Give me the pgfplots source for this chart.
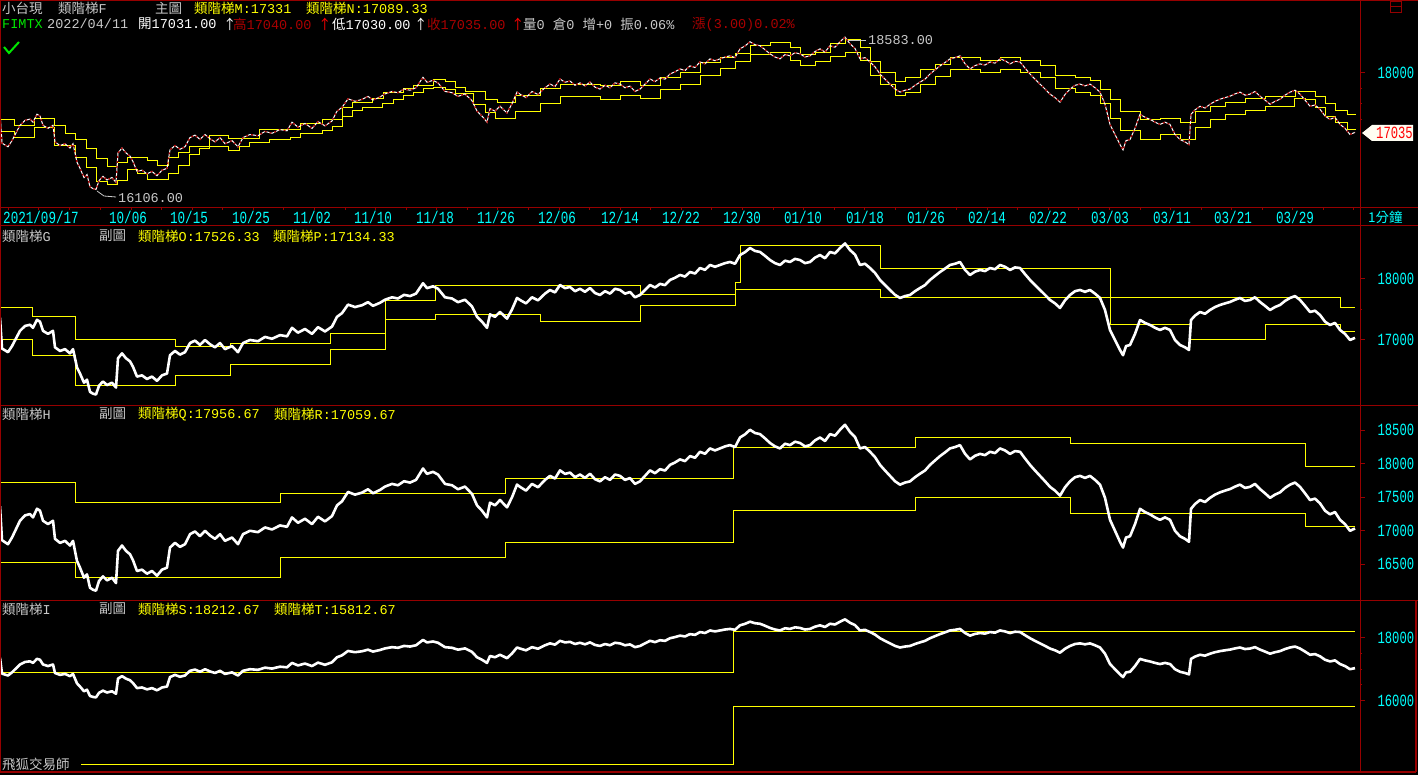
\documentclass[border=0pt]{standalone}
\usepackage{pgfplots}
\pgfplotsset{compat=1.18}
\usepackage{pgfplotstable}
\usepackage{fontspec}
\setmainfont{Liberation Mono}
\newfontfamily\cjk{Noto Sans CJK TC}
\definecolor{frame}{RGB}{150,0,0}
\definecolor{ylw}{RGB}{255,255,0}
\definecolor{cyn}{RGB}{0,255,255}
\definecolor{gry}{RGB}{200,200,200}
\definecolor{drd}{RGB}{170,0,0}
\definecolor{mag}{RGB}{255,0,255}
\definecolor{grn}{RGB}{0,230,0}
\newcommand\tl[1]{\scalebox{1}[1.35]{#1}}

\pgfplotstableread{
x p
0 17366
2 16860
8 16800
12 16900
20 17150
25 17230
30 17250
33 17200
37 17330
40 17300
43 17150
48 17100
53 17150
55 16880
60 16820
65 16850
70 16780
73 16850
77 16550
80 16450
84 16300
87 16350
90 16150
93 16120
96 16106
99 16250
103 16320
107 16260
112 16300
116 16220
118 16700
122 16780
126 16700
130 16650
133 16560
137 16400
142 16420
147 16360
152 16400
157 16330
162 16420
167 16450
170 16750
175 16820
180 16760
185 16800
190 16950
195 16990
200 16920
205 17000
210 16930
215 16880
220 16950
225 16850
232 16900
238 16800
243 16950
250 17000
258 16980
265 17050
272 17020
280 17080
287 17060
292 17200
298 17120
305 17180
312 17100
318 17210
325 17140
332 17220
337 17380
342 17440
348 17580
355 17540
362 17570
368 17620
373 17560
380 17610
385 17660
392 17700
398 17680
404 17740
410 17720
416 17760
423 17930
427 17850
433 17880
438 17840
445 17700
452 17680
458 17620
465 17660
472 17550
477 17380
482 17300
487 17200
490 17420
495 17380
500 17460
507 17350
512 17500
517 17690
520 17656
526 17600
532 17700
538 17650
545 17760
550 17820
555 17780
560 17902
565 17850
570 17869
575 17800
580 17840
585 17790
590 17852
595 17770
600 17738
605 17800
610 17760
615 17840
620 17820
625 17760
630 17787
635 17700
640 17738
645 17820
650 17902
655 17860
660 17920
665 17900
670 17984
675 18020
680 18066
685 18040
690 18115
695 18090
700 18180
705 18150
710 18230
715 18200
720 18230
725 18260
730 18279
735 18250
740 18393
745 18440
750 18508
755 18460
760 18443
765 18380
770 18311
775 18260
780 18230
785 18300
790 18279
795 18330
800 18311
805 18260
810 18279
815 18350
820 18393
825 18340
830 18443
835 18420
840 18508
845 18583
850 18475
855 18400
860 18230
865 18250
870 18180
875 18100
880 17984
885 17900
890 17820
895 17740
900 17689
905 17720
910 17738
915 17800
920 17852
925 17900
930 17984
935 18050
940 18115
945 18170
950 18230
955 18250
960 18279
965 18150
970 18066
975 18120
980 18148
985 18130
990 18180
995 18160
1000 18230
1005 18200
1010 18148
1015 18190
1020 18180
1025 18080
1030 17984
1035 17900
1040 17820
1045 17740
1050 17656
1055 17600
1060 17525
1065 17650
1070 17738
1075 17800
1080 17820
1085 17790
1090 17820
1095 17760
1100 17689
1105 17492
1110 17164
1115 17000
1120 16836
1123 16750
1126 16900
1130 16918
1135 17100
1140 17328
1145 17280
1150 17246
1155 17200
1160 17164
1165 17200
1170 17164
1175 17000
1180 16918
1185 16880
1189 16836
1191 17328
1195 17400
1200 17459
1205 17430
1210 17492
1215 17540
1220 17574
1225 17600
1230 17623
1235 17660
1240 17689
1245 17640
1250 17656
1255 17700
1260 17623
1265 17560
1270 17492
1275 17540
1280 17574
1285 17640
1290 17689
1295 17720
1300 17656
1305 17560
1310 17459
1315 17480
1320 17410
1325 17300
1330 17246
1335 17280
1340 17164
1345 17100
1350 17000
1355 17035
}\price

% main panel staircases
\pgfplotstableread{
x v
0 17236
14 17154
34 17268
54 17154
65 17024
75 16911
86 16780
96 16602
107 16472
117 16537
127 16634
147 16585
157 16504
168 16618
178 16715
189 16797
209 16976
228 16943
259 17089
300 17171
322 17236
342 17431
352 17528
372 17593
383 17691
403 17740
413 17789
433 17902
445 17854
455 17772
465 17707
485 17577
497 17528
515 17642
540 17756
560 17821
600 17789
620 17854
640 17789
660 17919
680 18016
700 18163
720 18244
735 18325
750 18455
770 18504
790 18407
800 18293
815 18341
830 18472
845 18537
860 18407
870 18179
880 18016
895 17854
905 17919
920 18049
935 18146
950 18244
980 18211
1000 18260
1020 18211
1040 18130
1055 17967
1075 17919
1090 17886
1100 17724
1110 17561
1120 17366
1140 17236
1160 17268
1180 17203
1195 17366
1210 17463
1225 17528
1245 17593
1265 17626
1280 17610
1295 17707
1315 17610
1325 17496
1335 17398
1347 17331
1356 17331
}\mM
\pgfplotstableread{
x v
0 17041
14 16959
34 17106
54 16829
75 16618
86 16456
96 16228
107 16179
117 16260
127 16423
137 16358
147 16276
168 16358
178 16504
189 16667
199 16780
209 16813
228 16748
239 16797
249 16862
269 16911
290 16959
300 17024
322 17057
332 17138
342 17285
352 17398
362 17447
382 17496
393 17577
403 17642
413 17691
423 17756
433 17772
445 17724
455 17659
473 17480
485 17350
495 17268
515 17366
540 17496
560 17610
600 17561
620 17642
640 17593
660 17724
680 17821
700 17967
720 18081
735 18179
750 18293
770 18341
790 18211
800 18130
815 18179
830 18276
845 18341
860 18211
870 17967
880 17805
895 17642
905 17691
920 17805
935 17951
950 18049
980 18016
1000 18049
1020 18016
1040 17919
1055 17756
1075 17691
1090 17642
1100 17512
1110 17268
1120 17073
1140 16911
1160 17008
1180 16911
1195 17106
1210 17236
1225 17333
1245 17398
1265 17463
1280 17463
1294 17593
1305 17561
1315 17447
1325 17285
1335 17203
1347 17089
1356 17089
}\mN

% panel G staircases
\pgfplotstableread{
x v
0 17525
32 17393
75 17000
175 16900
230 16950
330 17100
385 17650
435 17900
640 17750
735 17950
740 18557
880 18180
1110 17689
1340 17526
1355 17526
}\gO
\pgfplotstableread{
x v
0 17000
32 16750
75 16260
175 16420
230 16590
330 16836
385 17328
435 17410
540 17300
640 17560
735 17820
880 17700
1110 17250
1190 17000
1265 17250
1340 17134
1355 17134
}\gP

\pgfplotsset{
  panel/.style={scale only axis, width=1360pt, xmin=0, xmax=1360,
    anchor=north west, axis y line*=right,
    y axis line style={draw=frame, line width=1pt},
    tick align=outside, major tick length=5pt, minor tick length=2pt,
    ytick style={draw=frame, line width=1pt},
    scaled y ticks=false,
    yticklabel style={anchor=west, text=cyn, xshift=9pt,
      font=\fontsize{12.2}{12}\selectfont},
    yticklabel={\scalebox{1}[1.4]{\pgfmathprintnumber[assume math mode=true,1000 sep={},fixed,precision=0]{\tick}}},
    clip=true},
}

\begin{document}
\begin{tikzpicture}[x=1pt,y=1pt]
\fill[black] (0,0) rectangle (1418,-775);
\useasboundingbox (0,0) rectangle (1418,-775);

% ---------- main panel ----------
\begin{axis}[panel, at={(0pt,0pt)}, height=208pt, ymin=15805, ymax=19187,
  ytick={18000}, minor ytick={17250,17500,17750},
  axis x line*=bottom, x axis line style={draw=frame, line width=1pt},
  scaled x ticks=false,
  xtick={41,128,189,251,312,373,435,496,557,620,681,742,803,865,926,987,1048,1110,1172,1233,1295},
  xticklabels={\tl{2021/09/17},\tl{10/06},\tl{10/15},\tl{10/25},\tl{11/02},\tl{11/10},\tl{11/18},\tl{11/26},\tl{12/06},\tl{12/14},\tl{12/22},\tl{12/30},\tl{01/10},\tl{01/18},\tl{01/26},\tl{02/14},\tl{02/22},\tl{03/03},\tl{03/11},\tl{03/21},\tl{03/29}},
  xtick style={draw=none},
  minor xtick={8,38,69,100,131,161,192,222,253,283,314,345,375,406,436,467,497,528,559,589,620,650,681,711,742,773,803,834,864,895,926,956,987,1017,1048,1078,1109,1140,1170,1201,1231,1262,1292,1323,1353},
  minor x tick style={draw=frame, line width=1pt},
  xticklabel style={text=cyn, font=\fontsize{12.6}{12}\selectfont, anchor=north, yshift=5pt},
]
\addplot[const plot, color=ylw, line width=1pt] table[x=x,y=v]{\mM};
\addplot[const plot, color=ylw, line width=1pt] table[x=x,y=v]{\mN};
\addplot[color=white, line width=1pt] table[x=x,y=p]{\price};
\addplot[color=drd, line width=1.3pt, dash pattern=on 2pt off 3pt] table[x=x,y=p]{\price};
\end{axis}

% ---------- panel G ----------
\begin{axis}[panel, axis x line=none, at={(0pt,-226pt)}, height=179pt, ymin=15934, ymax=18869,
  ytick={17000,18000}, minor ytick={17500}]
\addplot[const plot, color=ylw, line width=1pt] table[x=x,y=v]{\gO};
\addplot[const plot, color=ylw, line width=1pt] table[x=x,y=v]{\gP};
\addplot[color=white, line width=2.6pt, line join=round] table[x=x,y=p]{\price};
\end{axis}

% ---------- panel H ----------
\begin{axis}[panel, axis x line=none, at={(0pt,-405pt)}, height=195pt, ymin=15967, ymax=18878,
  ytick={16500,17000,17500,18000,18500}]
\addplot[const plot, color=ylw, line width=1pt] coordinates {(0,17716)(75,17418)(280,17552)(505,17776)(733,18239)(915,18388)(1070,18299)(1305,17957)(1355,17957)};
\addplot[const plot, color=ylw, line width=1pt] coordinates {(0,16522)(75,16299)(280,16597)(505,16821)(733,17299)(915,17493)(1070,17254)(1305,17060)(1355,17060)};
\addplot[color=white, line width=2.6pt, line join=round] table[x=x,y=p]{\price};
\end{axis}

% ---------- panel I ----------
\begin{axis}[panel, axis x line=none, at={(0pt,-600pt)}, height=172pt, ymin=13737, ymax=19197,
  ytick={16000,18000}, minor ytick={16500,17000,17500}]
\addplot[const plot, color=ylw, line width=1pt] coordinates {(0,16911)(733,18213)(1355,18213)};
\addplot[const plot, color=ylw, line width=1pt] coordinates {(81,13990)(733,15813)(1355,15813)};
\addplot[color=white, line width=2.6pt, line join=round] table[x=x,y=p]{\price};
\end{axis}

% ---------- frame lines ----------
\draw[frame, line width=1.5pt] (0,-0.75) -- (1418,-0.75);
\draw[frame, line width=1pt] (0,-226) -- (1418,-226);
\draw[frame, line width=1pt] (0,-405) -- (1418,-405);
\draw[frame, line width=1pt] (0,-600.5) -- (1418,-600.5);
\draw[frame, line width=1.5pt] (0,-772) -- (1416,-772);
\draw[frame, line width=1pt] (0.5,0) -- (0.5,-772);
\draw[frame, line width=1pt] (1360,0) -- (1360,-772);
\draw[frame, line width=1.5pt] (1416,-600) -- (1416,-772);
\draw[frame, line width=1pt] (1360,-208) -- (1418,-208);
\draw[frame, line width=0.8pt] (1390,-1) rectangle (1401,-12);
\draw[frame, line width=0.8pt] (1390,-6) -- (1401,-6);

% ---------- header ----------
\begin{scope}[every node/.style={inner sep=0pt, anchor=west, font=\fontsize{13.5}{14}\selectfont}]
\node[text=gry] at (2,-8) {\cjk 小台現};
\node[text=gry] at (58,-8) {{\cjk 類階梯}F};
\node[text=gry] at (155,-8) {\cjk 主圖};
\node[text=ylw] at (194,-8) {{\cjk 類階梯}M:17331};
\node[text=ylw] at (306,-8) {{\cjk 類階梯}N:17089.33};
\node[text=grn] at (2,-24) {FIMTX};
\node[text=gry] at (47,-24) {2022/04/11};
\node[text=white] at (138,-24) {{\cjk 開}17031.00};
\node[text=white] at (223,-24) {\cjk ↑};
\node[text=drd] at (233,-24) {{\cjk 高}17040.00};
\node[text=red] at (318,-24) {\cjk ↑};
\node[text=white] at (332,-24) {{\cjk 低}17030.00};
\node[text=white] at (414,-24) {\cjk ↑};
\node[text=drd] at (427,-24) {{\cjk 收}17035.00};
\node[text=red] at (511,-24) {\cjk ↑};
\node[text=gry] at (523,-24) {{\cjk 量}0 {\cjk 倉}0 {\cjk 增}+0 {\cjk 振}0.06\%};
\node[text=drd] at (692,-24) {{\cjk 漲}(3.00)0.02\%};
\node[text=gry] at (2,-236) {{\cjk 類階梯}G};
\node[text=gry] at (99,-236) {\cjk 副圖};
\node[text=ylw] at (138,-236) {{\cjk 類階梯}O:17526.33};
\node[text=ylw] at (273,-236) {{\cjk 類階梯}P:17134.33};
\node[text=gry] at (2,-414) {{\cjk 類階梯}H};
\node[text=gry] at (99,-414) {\cjk 副圖};
\node[text=ylw] at (138,-414) {{\cjk 類階梯}Q:17956.67};
\node[text=ylw] at (274,-414) {{\cjk 類階梯}R:17059.67};
\node[text=gry] at (2,-609) {{\cjk 類階梯}I};
\node[text=gry] at (99,-609) {\cjk 副圖};
\node[text=ylw] at (138,-609) {{\cjk 類階梯}S:18212.67};
\node[text=ylw] at (274,-609) {{\cjk 類階梯}T:15812.67};
\node[text=gry] at (2,-764) {\cjk 飛狐交易師};
\node[text=gry] at (868,-40) {18583.00};
\node[text=gry] at (118,-198) {16106.00};
\node[text=cyn] at (1368,-217) {\cjk 1分鐘};
\end{scope}
\draw[gry, line width=0.8pt] (848,-40) -- (866,-40);
\draw[gry, line width=0.8pt] (97,-191) -- (104,-196) -- (116,-197);
\draw[grn, line width=2pt] (4,-47) -- (9,-53) -- (19,-42);
% price marker
\fill[white!95!yellow] (1362,-133) -- (1372,-125) -- (1413,-125) -- (1413,-141) -- (1372,-141) -- cycle;
\node[text=red, inner sep=0pt, anchor=west, font=\fontsize{12.2}{12}\selectfont] at (1376,-133) {\scalebox{1}[1.4]{17035}};
\end{tikzpicture}
\end{document}
